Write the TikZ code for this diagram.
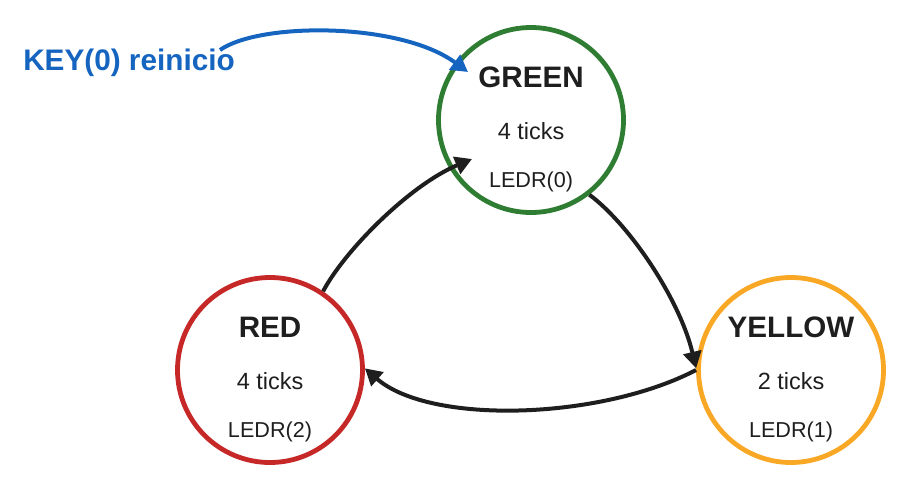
\documentclass[tikz,border=0pt]{standalone}
\usepackage{fontspec}
\setmainfont{Liberation Sans}
\usetikzlibrary{arrows.meta,calc}
\definecolor{cgreen}{HTML}{2E7D32}
\definecolor{cred}{HTML}{C62828}
\definecolor{cyellow}{HTML}{F9A825}
\definecolor{cblue}{HTML}{1565C0}
\definecolor{cink}{HTML}{1E1E1E}
\begin{document}
\begin{tikzpicture}[x=0.75pt,y=-0.75pt,
  state/.style={circle,draw,line width=3.6pt,minimum size=138.75pt,inner sep=0pt},
  title/.style={anchor=base,inner sep=0pt,text=cink,font=\fontsize{22.2}{26}\selectfont\bfseries},
  ticks/.style={anchor=base,inner sep=0pt,text=cink,font=\fontsize{17.6}{21}\selectfont},
  led/.style={anchor=base,inner sep=0pt,text=cink,font=\fontsize{16.2}{19}\selectfont},
  trans/.style={draw=cink,line width=3pt,-{Triangle[length=12.5pt,width=13.5pt]}},
  reset/.style={draw=cblue,line width=3pt,-{Triangle[length=12.5pt,width=13.5pt]}}]
\useasboundingbox (0,0) rectangle (912,489);
% states
\node[state,draw=cgreen] (green) at (531,120) {};
\node[state,draw=cred] (red) at (270,370) {};
\node[state,draw=cyellow] (yellow) at (791,370) {};
% texts
\node[title] (gt) at ($(green.center)+(0,-33)$) {GREEN};
\node[ticks] (gk) at ($(green.center)+(0,19)$) {4 ticks};
\node[led] (gl) at ($(green.center)+(0,67)$) {LEDR(0)};
\node[title] (rt) at ($(red.center)+(0,-33)$) {RED};
\node[ticks] (rk) at ($(red.center)+(0,19)$) {4 ticks};
\node[led] (rl) at ($(red.center)+(0,67)$) {LEDR(2)};
\node[title] (yt) at ($(yellow.center)+(0,-33)$) {YELLOW};
\node[ticks] (yk) at ($(yellow.center)+(0,19)$) {2 ticks};
\node[led] (yl) at ($(yellow.center)+(0,67)$) {LEDR(1)};
% reset label
\node[anchor=base west,inner sep=0pt,text=cblue,font=\fontsize{22.3}{26}\selectfont\bfseries] (key) at (23,70.7) {KEY(0) reinicio};
\coordinate (keystart) at (220,50);
\coordinate (keytip) at ($(green.center)+(-63,-48)$);
\coordinate (rgtip) at ($(green.center)+(-59,39)$);
% connectors
\draw[reset] (keystart) .. controls (260,22) and (400,22) .. (keytip);
\draw[trans] (green.-52) .. controls (630,225) and (680,300) .. (yellow.179);
\draw[trans] (yellow.180) .. controls (600,420) and (430,425) .. (red.1);
\draw[trans] (red.56) .. controls (345,250) and (410,185) .. (rgtip);
\end{tikzpicture}
\end{document}
